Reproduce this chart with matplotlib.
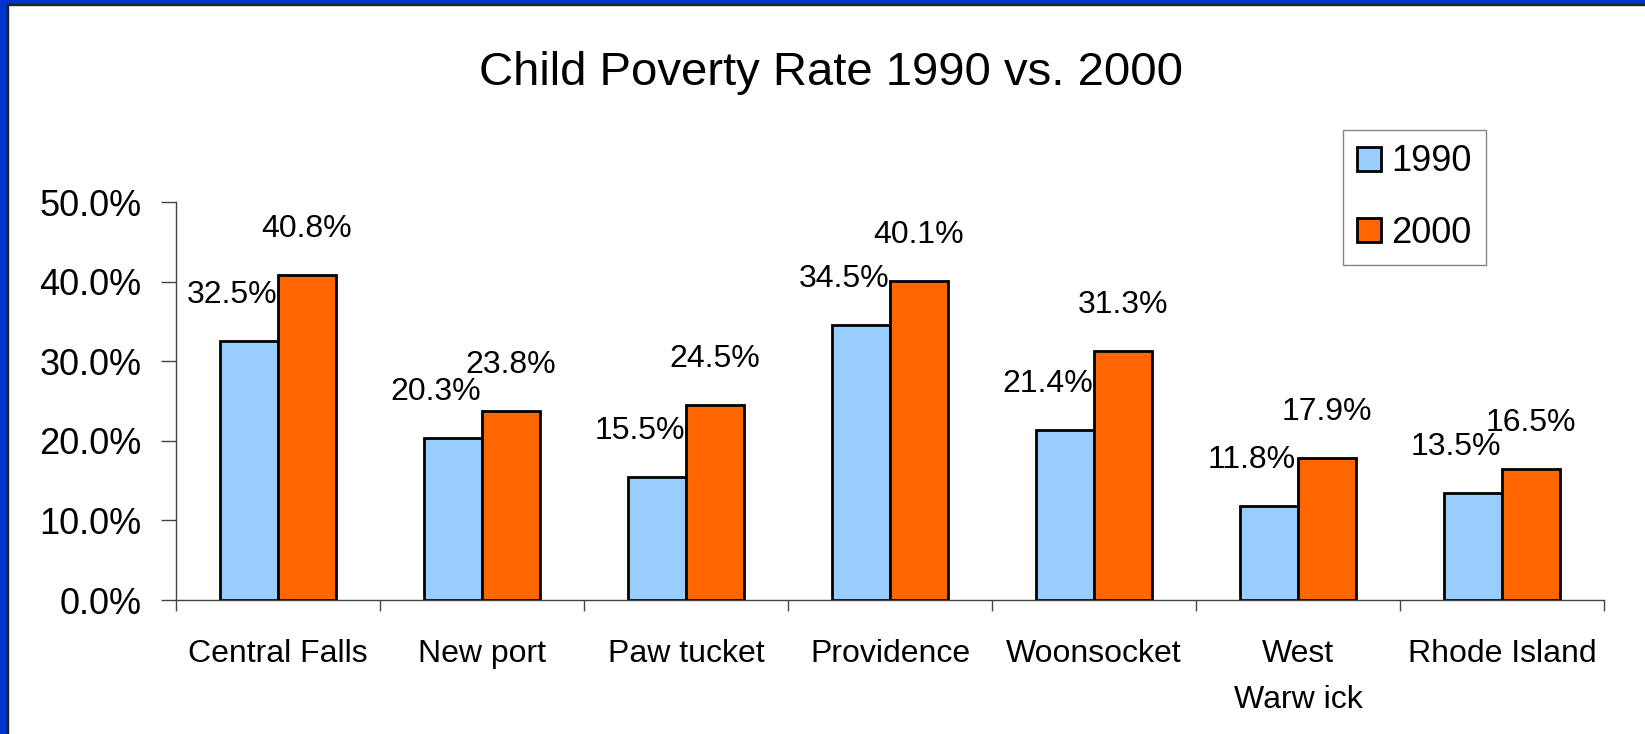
import numpy as np
import matplotlib.pyplot as plt
from matplotlib.patches import Rectangle

plt.rcParams['font.family'] = ['Liberation Sans', 'DejaVu Sans']

# data
places = ['Central Falls', 'New port', 'Paw tucket', 'Providence',
          'Woonsocket', 'West\nWarw ick', 'Rhode Island']
rate_1990 = [32.5, 20.3, 15.5, 34.5, 21.4, 11.8, 13.5]
rate_2000 = [40.8, 23.8, 24.5, 40.1, 31.3, 17.9, 16.5]
years = ['1990', '2000']
colors = ['#99CCFF', '#FF6600']

fig = plt.figure(figsize=(16.45, 7.34), dpi=100)
ax = fig.add_axes([176/1645, 1-600/734, 1428/1645, 398/734])

x = np.arange(len(places)) + 0.5
w = 0.284
b1 = ax.bar(x - w/2, rate_1990, w, color=colors[0], edgecolor='black', linewidth=2, label=years[0])
b2 = ax.bar(x + w/2, rate_2000, w, color=colors[1], edgecolor='black', linewidth=2, label=years[1])

# value labels
for xi, v in zip(x, rate_1990):
    ax.annotate(f'{v:.1f}%', (xi - w/2, v), xytext=(-17, 46), textcoords='offset pixels',
                ha='center', va='center', fontsize=23)
for xi, v in zip(x, rate_2000):
    ax.annotate(f'{v:.1f}%', (xi + w/2, v), xytext=(0, 46), textcoords='offset pixels',
                ha='center', va='center', fontsize=23)

ax.set_xlim(0, len(places))
ax.set_ylim(0, 50)
ax.set_yticks(np.arange(0, 51, 10))
ax.set_yticklabels([f'{t:.1f}%' for t in np.arange(0, 51, 10)], fontsize=26)
ax.set_xticks(np.arange(0, len(places) + 1))
ax.set_xticklabels([])
ax.set_xticks(x, minor=True)
ax.set_xticklabels(places, minor=True, fontsize=23, linespacing=1.7, va='top')
ax.tick_params(axis='x', which='minor', length=0, pad=28)
ax.tick_params(axis='x', which='major', length=8, width=1, color='#444444', direction='out')
ax.tick_params(axis='y', length=11, width=1, color='#444444', direction='out', pad=14)

for s in ['top', 'right']:
    ax.spines[s].set_visible(False)
for s in ['left', 'bottom']:
    ax.spines[s].set_color('#444444')
    ax.spines[s].set_linewidth(1)

fig.text(831/1645, 1-73/734, 'Child Poverty Rate 1990 vs. 2000', ha='center', va='center', fontsize=34)

leg = fig.legend(handles=[b1, b2], loc='upper left', bbox_to_anchor=(1343/1645, 1-130/734),
                 fontsize=26, frameon=True, fancybox=False, handlelength=0.64, handleheight=0.64,
                 handletextpad=0.3, labelspacing=1.0, borderpad=0.4, borderaxespad=0)
leg.get_frame().set_edgecolor('#666666')
leg.get_frame().set_linewidth(1)

# slide border
fig.patches.append(Rectangle((0, 0), 7/1645, 1, transform=fig.transFigure, color='#0033CC', zorder=10))
fig.patches.append(Rectangle((0, 1-4/734), 1, 4/734, transform=fig.transFigure, color='#0033CC', zorder=10))
fig.patches.append(Rectangle((7/1645, 0), 1.2/1645, 1-4/734, transform=fig.transFigure, color='#222222', zorder=10))
fig.patches.append(Rectangle((7/1645, 1-5.2/734), 1, 1.2/734, transform=fig.transFigure, color='#222222', zorder=10))

fig.savefig('out.png', dpi=100)
